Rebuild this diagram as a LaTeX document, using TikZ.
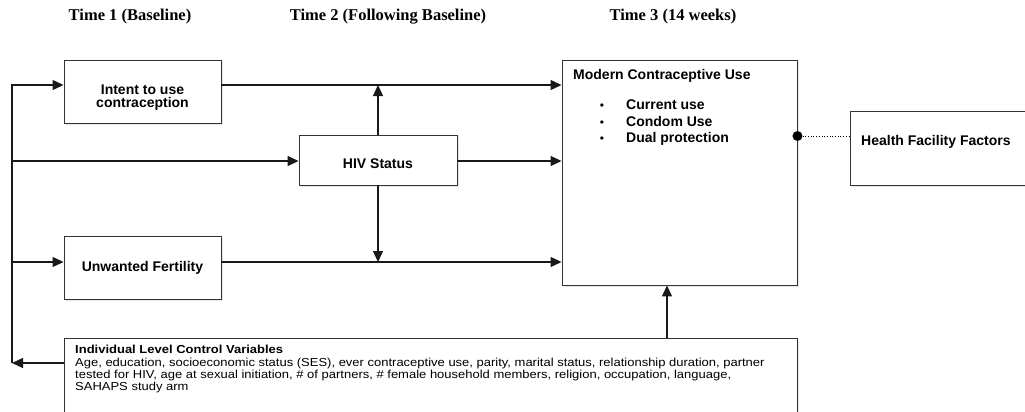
\documentclass[tikz,border=0pt]{standalone}
\usepackage{fontspec}
\setmainfont{Liberation Sans}
\newfontfamily\timesfont{Liberation Serif}
\newfontfamily\widefont[FakeStretch=1.12]{Liberation Sans}
\usetikzlibrary{arrows.meta,shadows}

\begin{document}
\begin{tikzpicture}[x=1pt,y=-1pt,
  box/.style={draw=black!80,line width=0.9pt,fill=white,inner sep=0pt,
    drop shadow={shadow xshift=1.5pt,shadow yshift=-1.5pt,opacity=0.2}},
  boxtext/.style={inner sep=0pt,align=center,font=\fontsize{14}{13.5}\selectfont\bfseries},
  link/.style={draw=black!90,line width=1.1pt,-{Triangle[length=11pt,width=10pt]}},
  timelabel/.style={font=\timesfont\fontsize{16.5}{18}\selectfont\bfseries}]

\useasboundingbox (0,0) rectangle (1025,412);

% time points
\node[timelabel] (time1) at (130,17) {Time 1 (Baseline)};
\node[timelabel] (time2) at (388,17) {Time 2 (Following Baseline)};
\node[timelabel] (time3) at (673,17) {Time 3 (14 weeks)};

% boxes
\node[box,minimum width=157pt,minimum height=63pt,
  label={[boxtext,yshift=-6pt]center:Intent to use\\contraception}] (intent) at (142.5,91.5) {};
\node[box,minimum width=158pt,minimum height=50pt,
  label={[boxtext,yshift=-4pt]center:HIV Status}] (hiv) at (378,160) {};
\node[box,minimum width=157pt,minimum height=63pt,
  label={[boxtext]center:Unwanted Fertility}] (unwanted) at (142.5,267.5) {};
\node[box,minimum width=235pt,minimum height=225pt] (modern) at (679.5,172.5) {};
\node[box,minimum width=195pt,minimum height=74pt] (health) at (947.5,148) {};
\node[box,minimum width=733pt,minimum height=92pt] (ctrl) at (430.5,384) {};

% texts inside the big boxes
\node[boxtext,anchor=base west] (moderntitle) at (573,79) {Modern Contraceptive Use};
\foreach \what [count=\i] in {Current use,Condom Use,Dual protection}{
  \node[inner sep=0pt,anchor=base,font=\fontsize{12}{12}\selectfont] (bullet\i) at (602,93+16.5*\i) {\textbullet};
  \node[boxtext,anchor=base west] (use\i) at (626,93+16.5*\i) {\what};
}
\node[boxtext,anchor=base west] (healthtext) at (861,145) {Health Facility Factors};
\node[inner sep=0pt,anchor=north west,align=left,
  font=\widefont\fontsize{11.6}{12.4}\selectfont] (ctrltext) at (75,345)
  {\textbf{Individual Level Control Variables}\\
   Age, education, socioeconomic status (SES), ever contraceptive use, parity, marital status, relationship duration, partner\\
   tested for HIV, age at sexual initiation, \# of partners, \# female household members, religion, occupation, language,\\
   SAHAPS study arm};

% rows
\coordinate (row1) at (12,85);
\coordinate (row2) at (12,161);
\coordinate (row3) at (12,262);
\coordinate (bus) at (12,363);
\coordinate (ctrlup) at (667,0);
\coordinate (dotrow) at (0,136);

% connectors
\draw[link] (ctrl.west |- bus) -- (bus);
\draw[link] (bus) |- (intent.west |- row1);
\draw[link] (row2) -- (hiv.west |- row2);
\draw[link] (row3) -- (unwanted.west |- row3);
\draw[link] (intent.east |- row1) -- (modern.west |- row1);
\draw[link] (hiv.east |- row2) -- (modern.west |- row2);
\draw[link] (unwanted.east |- row3) -- (modern.west |- row3);
\draw[link] (hiv.north) -- (hiv.north |- row1);
\draw[link] (hiv.south) -- (hiv.south |- row3);
\draw[link] (ctrl.north -| ctrlup) -- (modern.south -| ctrlup);

\node[circle,fill=black,inner sep=0pt,minimum size=10pt] (knob) at (modern.east |- dotrow) {};
\draw[dotted,line width=0.7pt] (knob) -- (health.west |- knob);
\end{tikzpicture}
\end{document}
